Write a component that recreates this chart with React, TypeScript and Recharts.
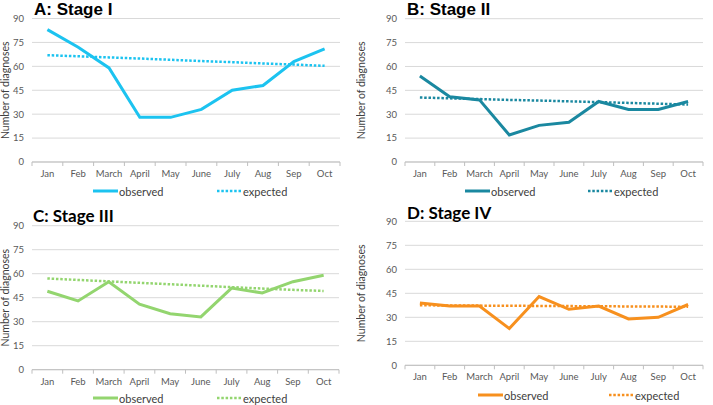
import { LineChart, Line, XAxis, YAxis, CartesianGrid } from "recharts";

const months = ["Jan", "Feb", "March", "April", "May", "June", "July", "Aug", "Sep", "Oct"];
const yTicks = [0, 15, 30, 45, 60, 75, 90];

const stageIObserved = [83, 72, 59, 28, 28, 33, 45, 48, 63, 71];
const stageIExpected = [67, 66.3, 65.6, 64.9, 64.1, 63.3, 62.6, 61.8, 61.1, 60.3];
const stageIIObserved = [54, 41, 39, 17, 23, 25, 38, 33, 33, 38];
const stageIIExpected = [40.5, 40, 39.5, 39, 38.6, 38.1, 37.6, 37.1, 36.6, 36.1];
const stageIIIObserved = [49, 43, 55, 41, 35, 33, 51, 48, 55, 59];
const stageIIIExpected = [57, 56.1, 55.2, 54.3, 53.4, 52.5, 51.6, 50.7, 49.9, 49.2];
const stageIVObserved = [39, 37, 37, 23, 43, 35, 37, 29, 30, 38];
const stageIVExpected = [37.5, 37.4, 37.3, 37.2, 37.1, 37, 36.9, 36.8, 36.7, 36.6];

const sans = "Lato, 'Liberation Sans', sans-serif";
const gray = "#595959";

function toRows(obs: number[], exp: number[]) {
  return months.map((m, i) => ({ month: m, observed: obs[i], expected: exp[i] }));
}

interface PanelProps {
  title: string;
  titleFont: string;
  titleTop: number;
  titleLeft: number;
  color: string;
  observed: number[];
  expected: number[];
  left: number;
  top: number;
  width: number;
  height: number;
  plotLeft: number;
  plotTop: number;
  plotRight: number;
  plotBottom: number;
  legendY: number;
  obsX: number;
  expX: number;
}

function Panel(p: PanelProps) {
  const data = toRows(p.observed, p.expected);
  const band = (p.plotRight - p.plotLeft) / months.length;

  const renderTick = (props: any) => {
    const { x, payload, index } = props;
    const y0 = p.plotBottom;
    return (
      <g>
        <line x1={x - band / 2} x2={x - band / 2} y1={y0} y2={y0 + 4} stroke="#bfbfbf" />
        {index === months.length - 1 && (
          <line x1={x + band / 2} x2={x + band / 2} y1={y0} y2={y0 + 4} stroke="#bfbfbf" />
        )}
        <text x={x} y={y0 + 15} textAnchor="middle" fill={gray} fontSize={9.5} fontFamily={sans}>
          {payload.value}
        </text>
      </g>
    );
  };

  const legendItem = (x: number, label: string, dashed: boolean) => (
    <div style={{ position: "absolute", left: x, top: p.legendY - 8, display: "flex", alignItems: "center", height: 16 }}>
      <svg width={25} height={16}>
        <line
          x1={0}
          x2={25}
          y1={8}
          y2={8}
          stroke={p.color}
          strokeWidth={dashed ? 2.5 : 3}
          strokeDasharray={dashed ? "2.5 1.8" : undefined}
        />
      </svg>
      <span style={{ marginLeft: 1 }}>{label}</span>
    </div>
  );

  return (
    <div style={{ position: "absolute", left: p.left, top: p.top, width: p.width, height: p.height }}>
      <LineChart
        width={p.width}
        height={p.height}
        data={data}
        margin={{ top: p.plotTop, left: 0, right: p.width - p.plotRight, bottom: p.height - p.plotBottom - 20 }}
      >
        <CartesianGrid vertical={false} stroke="#d9d9d9" />
        <XAxis
          dataKey="month"
          height={20}
          axisLine={{ stroke: "#bfbfbf" }}
          tickLine={false}
          interval={0}
          padding={{ left: band / 2, right: band / 2 }}
          tick={renderTick}
        />
        <YAxis
          width={p.plotLeft}
          domain={[0, 90]}
          ticks={yTicks}
          axisLine={false}
          tickLine={false}
          tick={{ fill: gray, fontSize: 9.5, fontFamily: sans }}
          label={{
            value: "Number of diagnoses",
            angle: -90,
            position: "insideLeft",
            offset: 0,
            dx: 5,
            style: { textAnchor: "middle", fill: "#404040", fontSize: 10.5, fontFamily: sans },
          }}
        />
        <Line
          dataKey="expected"
          stroke={p.color}
          strokeWidth={2.5}
          strokeDasharray="2.5 1.8"
          dot={false}
          isAnimationActive={false}
        />
        <Line dataKey="observed" stroke={p.color} strokeWidth={3} dot={false} isAnimationActive={false} />
      </LineChart>
      <div style={{ fontFamily: sans, fontSize: 11, color: "#404040" }}>
        {legendItem(p.obsX, "observed", false)}
        {legendItem(p.expX, "expected", true)}
      </div>
      <div
        style={{
          position: "absolute",
          left: p.titleLeft,
          top: p.titleTop,
          fontFamily: p.titleFont,
          fontWeight: "bold",
          fontSize: 17,
          color: "#000",
          lineHeight: "19px",
          whiteSpace: "nowrap",
        }}
      >
        {p.title}
      </div>
    </div>
  );
}

export default function App() {
  const arial = "'Liberation Sans', Arial, sans-serif";
  return (
    <div style={{ position: "fixed", left: 0, top: 0, width: 713, height: 405, background: "#fff" }}>
      <Panel
        title="A: Stage I"
        titleFont={arial}
        titleTop={0}
        titleLeft={34}
        color="#1cc3f0"
        observed={stageIObserved}
        expected={stageIExpected}
        left={0}
        top={0}
        width={356}
        height={200}
        plotLeft={32}
        plotTop={18.5}
        plotRight={340}
        plotBottom={162}
        legendY={191}
        obsX={93}
        expX={217}
      />
      <Panel
        title="B: Stage II"
        titleFont={arial}
        titleTop={0}
        titleLeft={51}
        color="#1a88a0"
        observed={stageIIObserved}
        expected={stageIIExpected}
        left={356}
        top={0}
        width={357}
        height={200}
        plotLeft={49}
        plotTop={18.7}
        plotRight={347}
        plotBottom={162}
        legendY={191}
        obsX={109}
        expX={232}
      />
      <Panel
        title="C: Stage III"
        titleFont={sans}
        titleTop={6}
        titleLeft={33}
        color="#93d56f"
        observed={stageIIIObserved}
        expected={stageIIIExpected}
        left={0}
        top={200}
        width={356}
        height={205}
        plotLeft={32}
        plotTop={25.7}
        plotRight={339}
        plotBottom={169.7}
        legendY={198}
        obsX={93}
        expX={217}
      />
      <Panel
        title="D: Stage IV"
        titleFont={sans}
        titleTop={3}
        titleLeft={51}
        color="#f7901e"
        observed={stageIVObserved}
        expected={stageIVExpected}
        left={356}
        top={200}
        width={357}
        height={205}
        plotLeft={49}
        plotTop={21.3}
        plotRight={347}
        plotBottom={165.3}
        legendY={195}
        obsX={122}
        expX={253}
      />
    </div>
  );
}
